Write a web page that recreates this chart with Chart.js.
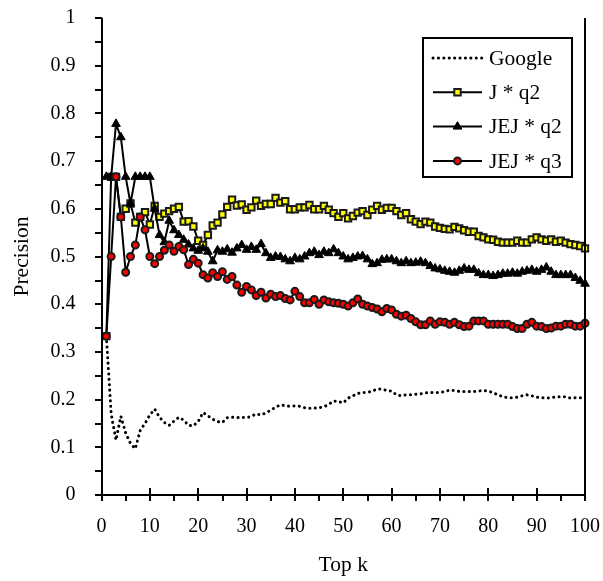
<!DOCTYPE html>
<html><head><meta charset="utf-8">
<script src="https://cdn.jsdelivr.net/npm/chart.js@4/dist/chart.umd.min.js"></script>
<style>html,body{margin:0;padding:0;background:#fff}#wrap{width:603px;height:581px;position:relative}</style>
</head><body><div id="wrap"><canvas id="c" width="603" height="581"></canvas></div>
<script>
const topK = [1,2,3,4,5,6,7,8,9,10,11,12,13,14,15,16,17,18,19,20,21,22,23,24,25,26,27,28,29,30,31,32,33,34,35,36,37,38,39,40,41,42,43,44,45,46,47,48,49,50,51,52,53,54,55,56,57,58,59,60,61,62,63,64,65,66,67,68,69,70,71,72,73,74,75,76,77,78,79,80,81,82,83,84,85,86,87,88,89,90,91,92,93,94,95,96,97,98,99,100];

const google = [
0.333,0.170,0.115,0.165,0.130,0.108,0.097,0.135,0.150,0.168,
0.180,0.163,0.152,0.146,0.155,0.163,0.157,0.146,0.145,0.154,
0.173,0.166,0.159,0.154,0.152,0.162,0.163,0.162,0.163,0.162,
0.165,0.170,0.168,0.172,0.178,0.184,0.189,0.187,0.186,0.187,
0.186,0.183,0.182,0.182,0.183,0.185,0.190,0.197,0.196,0.193,
0.203,0.208,0.213,0.215,0.215,0.218,0.222,0.222,0.219,0.218,
0.210,0.208,0.210,0.210,0.211,0.212,0.214,0.215,0.215,0.215,
0.217,0.220,0.219,0.217,0.217,0.217,0.217,0.218,0.219,0.218,
0.214,0.210,0.206,0.204,0.204,0.205,0.208,0.210,0.208,0.205,
0.204,0.203,0.204,0.206,0.206,0.206,0.203,0.204,0.204,0.204];

const jq2 = [
0.333,0.667,0.667,0.583,0.600,0.611,0.571,0.583,0.593,0.567,
0.606,0.583,0.590,0.595,0.600,0.604,0.573,0.574,0.563,0.533,
0.524,0.545,0.565,0.571,0.588,0.604,0.619,0.607,0.609,0.598,
0.603,0.617,0.606,0.610,0.610,0.623,0.613,0.616,0.599,0.599,
0.603,0.603,0.608,0.599,0.599,0.606,0.598,0.591,0.583,0.591,
0.580,0.585,0.592,0.595,0.587,0.598,0.606,0.598,0.602,0.602,
0.595,0.587,0.591,0.578,0.573,0.568,0.573,0.571,0.563,0.560,
0.558,0.557,0.562,0.559,0.555,0.552,0.552,0.543,0.540,0.536,
0.535,0.531,0.529,0.529,0.529,0.533,0.529,0.529,0.536,0.540,
0.536,0.533,0.536,0.531,0.533,0.529,0.526,0.524,0.522,0.517];

const jejq2 = [
0.667,0.667,0.778,0.750,0.667,0.611,0.667,0.667,0.667,0.667,
0.600,0.545,0.530,0.575,0.555,0.545,0.535,0.525,0.517,0.512,
0.517,0.510,0.490,0.513,0.510,0.515,0.508,0.517,0.524,0.514,
0.520,0.514,0.526,0.507,0.497,0.500,0.499,0.494,0.490,0.497,
0.494,0.500,0.507,0.510,0.503,0.510,0.507,0.515,0.507,0.500,
0.494,0.497,0.500,0.501,0.494,0.484,0.486,0.493,0.494,0.494,
0.490,0.486,0.490,0.486,0.487,0.489,0.486,0.480,0.475,0.473,
0.470,0.468,0.466,0.470,0.475,0.472,0.472,0.465,0.461,0.461,
0.459,0.461,0.464,0.464,0.466,0.464,0.468,0.470,0.472,0.468,
0.472,0.477,0.468,0.461,0.461,0.461,0.461,0.455,0.449,0.443];

const jejq3 = [
0.333,0.500,0.667,0.583,0.467,0.500,0.524,0.583,0.556,0.500,
0.485,0.500,0.513,0.524,0.511,0.521,0.514,0.483,0.494,0.486,
0.462,0.455,0.466,0.458,0.468,0.452,0.458,0.440,0.425,0.437,
0.430,0.418,0.425,0.413,0.421,0.416,0.418,0.412,0.409,0.427,
0.416,0.403,0.403,0.410,0.400,0.409,0.405,0.403,0.402,0.400,
0.396,0.403,0.411,0.400,0.396,0.393,0.390,0.384,0.391,0.388,
0.379,0.375,0.377,0.370,0.363,0.357,0.357,0.365,0.358,0.363,
0.362,0.358,0.362,0.357,0.353,0.354,0.365,0.365,0.365,0.358,
0.358,0.358,0.358,0.358,0.353,0.349,0.349,0.358,0.362,0.354,
0.353,0.349,0.350,0.354,0.354,0.358,0.358,0.354,0.354,0.360];

const xTickLabels = ['0','10','20','30','40','50','60','70','80','90','100'];
const yTickLabels = ['0','0.1','0.2','0.3','0.4','0.5','0.6','0.7','0.8','0.9','1'];
const seriesNames = ['Google','J * q2','JEJ * q2','JEJ * q3'];
const xTitle = 'Top k';
const yTitle = 'Precision';

const FONT = '"Liberation Serif", "Times New Roman", serif';

function pts(vals){ return topK.map((k,i)=>({x:k, y:vals[i]})); }

function drawMarker(ctx, style, x, y){
  ctx.save();
  ctx.setLineDash([]);
  if (style === 'rect') {
    ctx.fillStyle = '#FFFF00'; ctx.strokeStyle = '#1a1a1a'; ctx.lineWidth = 2;
    ctx.beginPath(); ctx.rect(x-3.2, y-3.2, 6.4, 6.4); ctx.fill(); ctx.stroke();
  } else if (style === 'triangle') {
    ctx.fillStyle = '#000'; ctx.strokeStyle = '#000'; ctx.lineWidth = 1;
    const r = 5;
    ctx.beginPath(); ctx.moveTo(x, y-r); ctx.lineTo(x+0.866*r, y+0.5*r); ctx.lineTo(x-0.866*r, y+0.5*r); ctx.closePath(); ctx.fill(); ctx.stroke();
  } else if (style === 'circle') {
    ctx.fillStyle = '#FF0000'; ctx.strokeStyle = '#1a1a1a'; ctx.lineWidth = 2;
    ctx.beginPath(); ctx.arc(x, y, 3.5, 0, Math.PI*2); ctx.fill(); ctx.stroke();
  }
  ctx.restore();
}

// axis lines and tick marks as solid filled bars, placed through the scales
function drawAxes(chart){
  const ctx = chart.ctx, a = chart.chartArea, x = chart.scales.x, y = chart.scales.y;
  const L = Math.round(a.left), R = Math.round(a.right), T = Math.round(a.top), B = Math.round(a.bottom);
  ctx.save();
  ctx.fillStyle = '#000000';
  ctx.fillRect(L - 1, T, 2, B - T + 1);        // y axis
  ctx.fillRect(L - 1, B - 1, R - L + 2, 2);    // x axis
  ctx.fillRect(R - 1, T, 2, B - T);            // right border
  const yp = y.ticks.map(t => Math.round(y.getPixelForValue(t.value)));
  for (let i = 0; i < yp.length; i++) {
    ctx.fillRect(L - 7, yp[i] - 1, 7, 2);
    if (i < yp.length - 1) { const m = Math.round((yp[i] + yp[i+1]) / 2); ctx.fillRect(L - 7, m - 1, 7, 2); }
  }
  const xp = x.ticks.map(t => Math.round(x.getPixelForValue(t.value)));
  for (let i = 0; i < xp.length; i++) {
    ctx.fillRect(xp[i] - 1, B - 7, 2, 13);
    if (i < xp.length - 1) { const m = Math.round((xp[i] + xp[i+1]) / 2); ctx.fillRect(m - 1, B, 2, 6); }
  }
  ctx.restore();
}

function drawLegend(chart){
  const {ctx, chartArea:a} = chart;
  const bx = Math.round(a.right) - 162, by = Math.round(a.top) + 20, bw = 149, bh = 139;
  ctx.save();
  ctx.setLineDash([]);
  ctx.fillStyle = '#fff'; ctx.fillRect(bx, by, bw, bh);
  ctx.fillStyle = '#000';
  ctx.fillRect(bx - 1, by - 1, bw + 2, 2); ctx.fillRect(bx - 1, by + bh - 1, bw + 2, 2);
  ctx.fillRect(bx - 1, by - 1, 2, bh + 2); ctx.fillRect(bx + bw - 1, by - 1, 2, bh + 2);
  const styles = [null, 'rect', 'triangle', 'circle'];
  ctx.font = '21.5px ' + FONT; ctx.textBaseline = 'middle'; ctx.textAlign = 'left';
  seriesNames.forEach((name, i) => {
    const cy = by + 20 + i * 34.3;
    const x0 = bx + 10, x1 = bx + 59;
    ctx.save();
    ctx.strokeStyle = '#000';
    if (i === 0) { ctx.lineWidth = 3; ctx.lineCap = 'round'; ctx.setLineDash([0.1, 5.3]); }
    else { ctx.lineWidth = 2; ctx.setLineDash([]); }
    ctx.beginPath(); ctx.moveTo(x0, cy); ctx.lineTo(x1, cy); ctx.stroke();
    ctx.restore();
    if (styles[i]) drawMarker(ctx, styles[i], (x0 + x1) / 2, cy);
    ctx.fillStyle = '#000';
    ctx.fillText(name, bx + 66, cy + 1);
  });
  ctx.restore();
}

const deco = {
  id: 'deco',
  beforeDatasetsDraw(chart){ drawAxes(chart); },
  afterDraw(chart){ drawAxes(chart); drawLegend(chart); }
};

function zeroPad(s){ s.paddingTop = 0; s.paddingBottom = 0; s.paddingLeft = 0; s.paddingRight = 0; }

new Chart(document.getElementById('c'), {
  type: 'line',
  data: {
    datasets: [
      { label: seriesNames[0], data: pts(google), borderColor: '#000', borderWidth: 3, borderDash: [0.1, 5.3], borderCapStyle: 'round', pointRadius: 0, order: 4, clip: false },
      { label: seriesNames[1], data: pts(jq2), borderColor: '#000', borderWidth: 2, pointStyle: 'rect', pointRadius: 4.5, pointBackgroundColor: '#FFFF00', pointBorderColor: '#1a1a1a', pointBorderWidth: 2, order: 3, clip: false },
      { label: seriesNames[2], data: pts(jejq2), borderColor: '#000', borderWidth: 2, pointStyle: 'triangle', pointRadius: 5, pointBackgroundColor: '#000', pointBorderColor: '#000', pointBorderWidth: 1, order: 2, clip: false },
      { label: seriesNames[3], data: pts(jejq3), borderColor: '#000', borderWidth: 2, pointStyle: 'circle', pointRadius: 3.5, pointBackgroundColor: '#FF0000', pointBorderColor: '#1a1a1a', pointBorderWidth: 2, order: 1, clip: false }
    ]
  },
  options: {
    responsive: false,
    animation: false,
    devicePixelRatio: 1,
    layout: { padding: { left: 0, top: 18, right: 18, bottom: 0 } },
    plugins: { legend: { display: false }, tooltip: { enabled: false } },
    elements: { line: { tension: 0 } },
    scales: {
      x: {
        type: 'linear', min: 0, max: 100,
        grid: { display: false }, border: { display: false },
        ticks: { stepSize: 10, padding: 12, color: '#000', font: { family: FONT, size: 20 }, maxRotation: 0,
          callback: (v, i) => xTickLabels[i] },
        title: { display: true, text: xTitle, color: '#000', font: { family: FONT, size: 21.5 }, padding: { top: 0, bottom: 3 } },
        afterFit(s){ s.height = 86; zeroPad(s); }
      },
      y: {
        type: 'linear', min: 0, max: 1,
        grid: { display: false }, border: { display: false },
        ticks: { stepSize: 0.1, padding: 18, color: '#000', font: { family: FONT, size: 20 },
          callback: (v, i) => yTickLabels[i] },
        title: { display: true, text: yTitle, color: '#000', font: { family: FONT, size: 21.5 }, padding: { top: 9, bottom: 0 } },
        afterFit(s){ s.width = 101.5; zeroPad(s); }
      }
    }
  },
  plugins: [deco]
});
</script></body></html>
